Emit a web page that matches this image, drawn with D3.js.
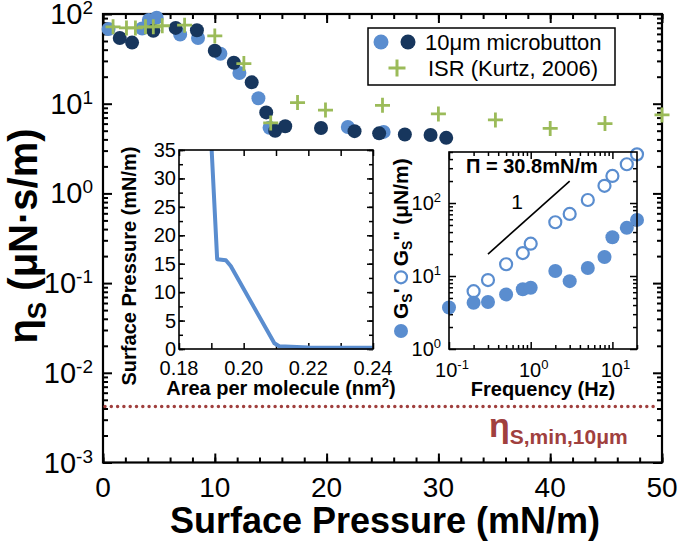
<!DOCTYPE html>
<html><head><meta charset="utf-8">
<script src="https://cdn.jsdelivr.net/npm/d3@7/dist/d3.min.js"></script>
<style>
body{margin:0;background:#fff;}
svg{display:block;font-family:"Liberation Sans",Arial,sans-serif;}
</style></head><body>
<svg id="chart" width="680" height="541"></svg>
<script>
// ---------------- data ----------------
const lightPressure = [0.5, 3.5, 4.1, 4.8, 6.9, 8.5, 10.5, 12.2, 13.9, 14.9, 21.9, 25.1];
const lightEta      = [68, 69, 86, 91, 59, 54, 36, 22, 11.5, 5.4, 5.5, 4.85];
const darkPressure  = [1.5, 2.6, 4.5, 6.5, 8.4, 10.0, 11.7, 13.3, 14.6, 15.4, 16.3, 19.5, 22.5, 24.7, 27.0, 29.3, 30.7];
const darkEta       = [54, 48, 65, 70, 66, 39, 28.6, 17.3, 8.0, 5.0, 5.6, 5.35, 4.94, 4.67, 4.54, 4.47, 4.16];
const isrPressure   = [0.9, 2.1, 2.9, 3.8, 4.5, 5.3, 7.3, 10.0, 12.6, 15.0, 17.4, 19.9, 25.0, 30.0, 35.1, 40.0, 44.9, 50.0];
const isrEta        = [72, 70, 70, 72, 72, 74, 75, 57, 28, 6.1, 10.3, 8.5, 9.6, 7.7, 6.6, 5.3, 6.0, 7.5];
const etaMin = 0.0042;
const pressureTicks = [0, 10, 20, 30, 40, 50];
const etaExponents = [-3, -2, -1, 0, 1, 2];
const legendLabels = ["10\u03bcm microbutton", "ISR (Kurtz, 2006)"];

const isoArea     = [0.1901, 0.1918, 0.1945, 0.1960, 0.2095, 0.2110, 0.2200, 0.2400];
const isoPressure = [35, 15.8, 15.6, 14.6, 1.0, 0.5, 0.25, 0.2];
const areaTicks = [0.18, 0.20, 0.22, 0.24];
const isoPressureTicks = [0, 5, 10, 15, 20, 25, 30, 35];

const freqPrime   = [0.1, 0.2, 0.3, 0.5, 0.8, 1, 2, 3, 5, 8, 10, 15, 20];
const gPrime      = [3.7, 4.3, 4.4, 5.6, 6.6, 6.9, 11.7, 8.5, 12.9, 18.2, 34, 45.7, 58.7];
const freqDouble  = [0.2, 0.3, 0.5, 0.8, 1, 2, 3, 5, 8, 10, 15, 20];
const gDouble     = [6.2, 8.8, 14.5, 20.6, 27.7, 54.5, 70.8, 110, 172, 235, 340, 464];
const freqExponents = [-1, 0, 1];
const modExponents = [0, 1, 2];
const slopeFreq = [0.3, 3];
const slopeG = [20, 200];

// ---------------- styles ----------------
const LIGHT = "#5A8DCF", DARK = "#17365D", GREEN = "#9BBB59", RED = "#A0403E";

const svg = d3.select("#chart");

function logMinor(lo, hi) {
  const out = [];
  for (let e = Math.floor(Math.log10(lo)); e <= Math.ceil(Math.log10(hi)); e++)
    for (let k = 2; k <= 9; k++) { const v = k * Math.pow(10, e); if (v >= lo && v <= hi) out.push(v); }
  return out;
}
function ticks(g, scale, orient, values, size, pos, sw) {
  const gen = {bottom: d3.axisBottom, top: d3.axisTop, left: d3.axisLeft, right: d3.axisRight}[orient];
  const ax = gen(scale).tickValues(values).tickSize(-size).tickFormat("");
  const t = (orient === "bottom" || orient === "top") ? `translate(0,${pos})` : `translate(${pos},0)`;
  const s = g.append("g").attr("transform", t).call(ax);
  s.select(".domain").remove();
  s.selectAll("line").attr("stroke", "#000").attr("stroke-width", sw);
}
function powLabel(g, x, y, exp, size, supSize, anchor, rise) {
  const t = g.append("text").attr("x", x).attr("y", y).attr("text-anchor", anchor)
    .attr("font-size", size).attr("fill", "#000");
  t.append("tspan").text("10");
  t.append("tspan").attr("dy", -rise).attr("font-size", supSize).text(exp);
  return t;
}
function cross(g, cx, cy, s, color, sw) {
  g.append("path").attr("d", `M${cx - s / 2},${cy}H${cx + s / 2}M${cx},${cy - s / 2}V${cy + s / 2}`)
    .attr("stroke", color).attr("stroke-width", sw).attr("fill", "none");
}

// ---------------- main chart ----------------
const M = {l: 103, r: 662, t: 14, b: 462.5};
const x = d3.scaleLinear().domain([0, 50]).range([M.l, M.r]);
const y = d3.scaleLog().domain([1e-3, 1e2]).range([M.b, M.t]);
const main = svg.append("g");

const xMinor = d3.range(0, 51, 2);
const yMajor = etaExponents.map(e => Math.pow(10, e));
const yMinor = logMinor(1e-3, 1e2);
ticks(main, x, "bottom", xMinor, 5, M.b, 2);
ticks(main, x, "bottom", pressureTicks, 9, M.b, 2);
ticks(main, x, "top", xMinor, 5, M.t, 2);
ticks(main, x, "top", pressureTicks, 9, M.t, 2);
ticks(main, y, "left", yMinor, 5, M.l, 2);
ticks(main, y, "left", yMajor, 9, M.l, 2);
ticks(main, y, "right", yMinor, 5, M.r, 2);
ticks(main, y, "right", yMajor, 9, M.r, 2);
main.append("rect").attr("x", M.l).attr("y", M.t).attr("width", M.r - M.l).attr("height", M.b - M.t)
  .attr("fill", "none").attr("stroke", "#000").attr("stroke-width", 2.2);

pressureTicks.forEach(v => main.append("text").attr("x", x(v)).attr("y", 497).attr("text-anchor", "middle")
  .attr("font-size", 28).text(v));
etaExponents.forEach(e => powLabel(main, 93, y(Math.pow(10, e)) + 10, e, 29, 19, "end", 10));

main.append("text").attr("x", 385).attr("y", 533).attr("text-anchor", "middle")
  .attr("font-size", 36).attr("font-weight", "bold").text("Surface Pressure (mN/m)");
const yt = main.append("text").attr("transform", "translate(37,236) rotate(-90)").attr("text-anchor", "middle")
  .attr("font-size", 40).attr("font-weight", "bold");
yt.append("tspan").text("\u03b7");
yt.append("tspan").attr("font-size", 26).attr("dy", 9).text("S");
yt.append("tspan").attr("dy", -9).text(" (\u03bcN\u00b7s/m)");

// min line
main.append("line").attr("x1", M.l + 2).attr("x2", M.r - 3).attr("y1", y(etaMin)).attr("y2", y(etaMin))
  .attr("stroke", RED).attr("stroke-width", 3.5).attr("stroke-linecap", "round").attr("stroke-dasharray", "0 6.3");
const ml = main.append("text").attr("x", 489).attr("y", 437).attr("fill", RED).attr("font-weight", "bold");
ml.append("tspan").attr("font-size", 34).text("\u03b7");
ml.append("tspan").attr("font-size", 21).attr("dy", 7).text("S,min,10\u03bcm");

// data
main.append("g").selectAll("circle").data(lightPressure).join("circle")
  .attr("cx", (d) => x(d)).attr("cy", (d, i) => y(lightEta[i])).attr("r", 7).attr("fill", LIGHT);
main.append("g").selectAll("circle").data(darkPressure).join("circle")
  .attr("cx", (d) => x(d)).attr("cy", (d, i) => y(darkEta[i])).attr("r", 7).attr("fill", DARK);
const cg = main.append("g");
isrPressure.forEach((p, i) => cross(cg, x(p), y(isrEta[i]), 15, GREEN, 2.8));

// legend
const lg = main.append("g");
lg.append("rect").attr("x", 368).attr("y", 28).attr("width", 247).attr("height", 57)
  .attr("fill", "#fff").attr("stroke", "#000").attr("stroke-width", 1.5);
lg.append("circle").attr("cx", 381).attr("cy", 42).attr("r", 7.5).attr("fill", LIGHT);
lg.append("circle").attr("cx", 408).attr("cy", 42).attr("r", 7.5).attr("fill", DARK);
cross(lg, 397, 68, 17, GREEN, 3);
lg.append("text").attr("x", 425).attr("y", 50).attr("font-size", 22).text(legendLabels[0]);
lg.append("text").attr("x", 428).attr("y", 76).attr("font-size", 22).text(legendLabels[1]);

// ---------------- inset 1: isotherm ----------------
const I1 = {l: 179, r: 373, t: 150, b: 349};
const x1 = d3.scaleLinear().domain([0.18, 0.24]).range([I1.l, I1.r]);
const y1 = d3.scaleLinear().domain([0, 35]).range([I1.b, I1.t]);
const in1 = svg.append("g");
in1.append("rect").attr("x", I1.l).attr("y", I1.t).attr("width", I1.r - I1.l).attr("height", I1.b - I1.t).attr("fill", "#fff");
const aTicks = d3.range(0, 7).map(i => 0.18 + i * 0.01);
const pMinor = d3.range(0, 36, 2.5);
ticks(in1, x1, "bottom", aTicks, 6, I1.b, 1.5);
ticks(in1, x1, "top", aTicks, 6, I1.t, 1.5);
ticks(in1, y1, "left", pMinor, 4, I1.l, 1.5);
ticks(in1, y1, "left", isoPressureTicks, 6, I1.l, 1.5);
ticks(in1, y1, "right", pMinor, 4, I1.r, 1.5);
ticks(in1, y1, "right", isoPressureTicks, 6, I1.r, 1.5);
in1.append("path").datum(isoArea.map((a, i) => [a, isoPressure[i]]))
  .attr("d", d3.line().x(d => x1(d[0])).y(d => y1(d[1])))
  .attr("fill", "none").attr("stroke", LIGHT).attr("stroke-width", 4).attr("stroke-linejoin", "round");
in1.append("rect").attr("x", I1.l).attr("y", I1.t).attr("width", I1.r - I1.l).attr("height", I1.b - I1.t)
  .attr("fill", "none").attr("stroke", "#000").attr("stroke-width", 1.6);
areaTicks.forEach(v => in1.append("text").attr("x", x1(v)).attr("y", 375).attr("text-anchor", "middle")
  .attr("font-size", 20).text(v.toFixed(2)));
isoPressureTicks.forEach(v => in1.append("text").attr("x", 176).attr("y", y1(v) + 7).attr("text-anchor", "end")
  .attr("font-size", 20).text(v));
const at = in1.append("text").attr("x", 281).attr("y", 395).attr("text-anchor", "middle")
  .attr("font-size", 20).attr("font-weight", "bold");
at.append("tspan").text("Area per molecule (nm");
at.append("tspan").attr("dy", -8).attr("font-size", 13).text("2");
at.append("tspan").attr("dy", 8).text(")");
in1.append("text").attr("transform", "translate(136,266) rotate(-90)").attr("text-anchor", "middle")
  .attr("font-size", 20).attr("font-weight", "bold").text("Surface Pressure (mN/m)");

// ---------------- inset 2: moduli ----------------
const I2 = {l: 449, r: 637, t: 152, b: 349};
const x2 = d3.scaleLog().domain([0.1, 20]).range([I2.l, I2.r]);
const y2 = d3.scaleLog().domain([1, 500]).range([I2.b, I2.t]);
const in2 = svg.append("g");
in2.append("rect").attr("x", I2.l).attr("y", I2.t).attr("width", I2.r - I2.l).attr("height", I2.b - I2.t).attr("fill", "#fff");
const fMajor = freqExponents.map(e => Math.pow(10, e));
const gMajor = modExponents.map(e => Math.pow(10, e));
ticks(in2, x2, "bottom", logMinor(0.1, 20), 4, I2.b, 1.5);
ticks(in2, x2, "bottom", fMajor, 7, I2.b, 1.5);
ticks(in2, x2, "top", logMinor(0.1, 20), 4, I2.t, 1.5);
ticks(in2, x2, "top", fMajor, 7, I2.t, 1.5);
ticks(in2, y2, "left", logMinor(1, 500), 4, I2.l, 1.5);
ticks(in2, y2, "left", gMajor, 7, I2.l, 1.5);
ticks(in2, y2, "right", logMinor(1, 500), 4, I2.r, 1.5);
ticks(in2, y2, "right", gMajor, 7, I2.r, 1.5);
in2.append("path").datum(slopeFreq.map((f, i) => [f, slopeG[i]]))
  .attr("d", d3.line().x(d => x2(d[0])).y(d => y2(d[1]))).attr("stroke", "#000").attr("stroke-width", 1.6);
in2.append("text").attr("x", 517).attr("y", 209).attr("text-anchor", "middle").attr("font-size", 21).text("1");
in2.append("text").attr("x", 466).attr("y", 173).attr("font-size", 20).attr("font-weight", "bold").text("\u03a0 = 30.8mN/m");
in2.append("g").selectAll("circle").data(freqDouble).join("circle")
  .attr("cx", d => x2(d)).attr("cy", (d, i) => y2(gDouble[i])).attr("r", 6)
  .attr("fill", "#fff").attr("stroke", LIGHT).attr("stroke-width", 2.2);
in2.append("g").selectAll("circle").data(freqPrime).join("circle")
  .attr("cx", d => x2(d)).attr("cy", (d, i) => y2(gPrime[i])).attr("r", 7).attr("fill", LIGHT);
in2.append("rect").attr("x", I2.l).attr("y", I2.t).attr("width", I2.r - I2.l).attr("height", I2.b - I2.t)
  .attr("fill", "none").attr("stroke", "#000").attr("stroke-width", 1.6);
freqExponents.forEach(e => powLabel(in2, x2(Math.pow(10, e)) + 3, 377, e, 20, 13, "middle", 8));
modExponents.forEach(e => powLabel(in2, 441, y2(Math.pow(10, e)) + 7, e, 20, 13, "end", 8));
in2.append("text").attr("x", 543).attr("y", 396).attr("text-anchor", "middle")
  .attr("font-size", 20).attr("font-weight", "bold").text("Frequency (Hz)");

// rotated y title with markers
const yl = in2.append("g").attr("transform", "translate(408,338) rotate(-90)");
yl.append("circle").attr("cx", 7).attr("cy", -7).attr("r", 7).attr("fill", LIGHT);
const t1 = yl.append("text").attr("x", 19).attr("y", 0).attr("font-size", 21).attr("font-weight", "bold");
t1.append("tspan").text("G");
t1.append("tspan").attr("font-size", 14).attr("dy", 4).text("S");
t1.append("tspan").attr("dy", -4).text("'");
const w1 = t1.node().getComputedTextLength();
const oc = 19 + w1 + 11;
yl.append("circle").attr("cx", oc).attr("cy", -7).attr("r", 6).attr("fill", "#fff").attr("stroke", LIGHT).attr("stroke-width", 2.2);
const t2 = yl.append("text").attr("x", oc + 11).attr("y", 0).attr("font-size", 21).attr("font-weight", "bold");
t2.append("tspan").text("G");
t2.append("tspan").attr("font-size", 14).attr("dy", 4).text("S");
t2.append("tspan").attr("dy", -4).text("\" (\u03bcN/m)");
</script>
</body></html>
